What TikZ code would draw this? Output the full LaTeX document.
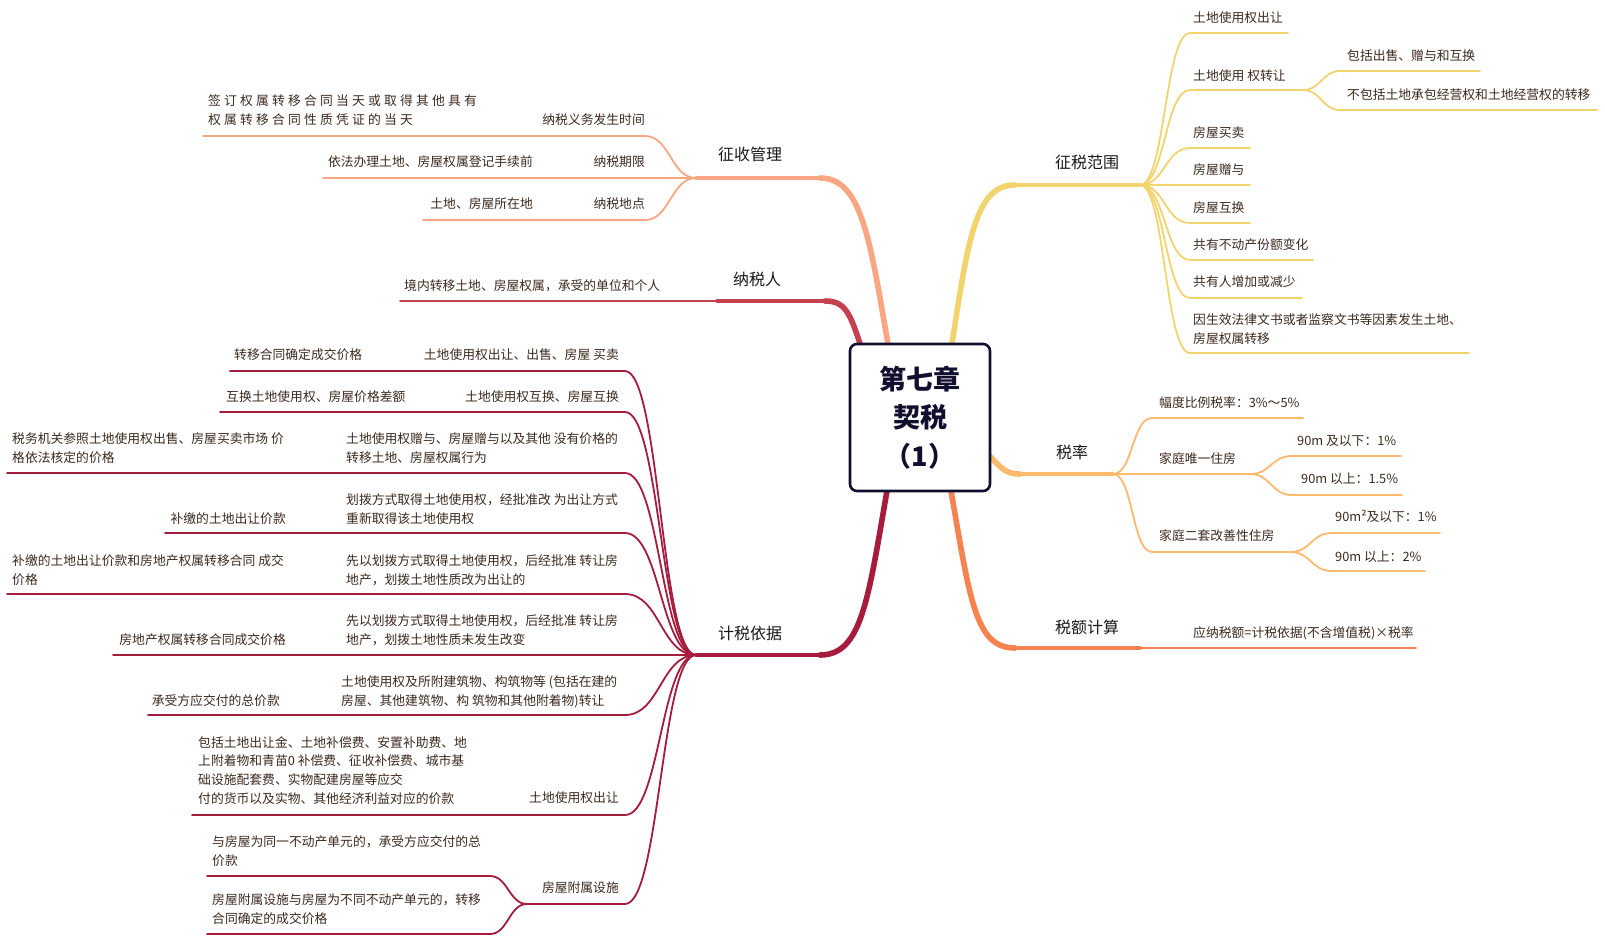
\documentclass[tikz,border=0pt]{standalone}
\usepackage{fontspec}
\newfontfamily\cjk{Noto Sans CJK SC}
\definecolor{zscol}{RGB}{250,166,130}
\definecolor{nsrcol}{RGB}{196,66,80}
\definecolor{jscol}{RGB}{165,28,60}
\definecolor{zfcol}{RGB}{242,212,110}
\definecolor{slcol}{RGB}{253,185,110}
\definecolor{secol}{RGB}{246,130,80}
\definecolor{rootcol}{RGB}{16,16,46}
\definecolor{leafc}{RGB}{60,42,30}
\definecolor{lblc}{RGB}{25,25,25}
\tikzset{
  leaf/.style={inner sep=0pt, font=\cjk\fontsize{12.8}{18.8}\selectfont, text=leafc},
  leafL/.style={leaf, anchor=west, align=left},
  leafR/.style={leaf, anchor=east, align=right},
  spaced/.style={font=\cjk\fontsize{12.8}{18.8}\selectfont\addfontfeatures{LetterSpace=25}},
  mainlbl/.style={inner sep=0pt, font=\cjk\fontsize{16}{20}\selectfont, text=lblc},
  rootbox/.style={draw=rootcol, line width=2.6pt, fill=white, rounded corners=7pt,
    minimum width=140pt, minimum height=147pt, inner sep=0pt, align=center,
    font=\cjk\bfseries\fontsize{27}{38.5}\selectfont, text=rootcol},
  thinln/.style={line width=1.8pt, line cap=round},
  midln/.style={line width=3.4pt, line cap=round},
  thickln/.style={line width=5.6pt, line cap=round},
}
\begin{document}
\begin{tikzpicture}[x=1pt,y=-1pt]
\useasboundingbox (0,0) rectangle (1605,943);
\fill[white] (0,0) rectangle (1605,943);

% ---------- coordinates ----------
% 征收管理
\coordinate (zsC) at (696,178);
\coordinate (zsR) at (889,350);
\coordinate (zsK) at (820,178);
\coordinate (zs1a) at (203,136); \coordinate (zs1b) at (645,136);
\coordinate (zs2a) at (323,178);
\coordinate (zs3a) at (423,220); \coordinate (zs3b) at (645,220);
% 纳税人
\coordinate (nsC) at (717,301);
\coordinate (nsR) at (862,350);
\coordinate (nsK) at (825,301);
\coordinate (ns1a) at (400,301);
% 计税依据
\coordinate (jC) at (696,655);
\coordinate (jR) at (888,485);
\coordinate (jK) at (820,655);
\coordinate (j1a) at (230,371) ; \coordinate (j1b) at (625,371);
\coordinate (j2a) at (220,412) ; \coordinate (j2b) at (625,412);
\coordinate (j3a) at (7,473)   ; \coordinate (j3b) at (625,473);
\coordinate (j4a) at (165,533) ; \coordinate (j4b) at (625,533);
\coordinate (j5a) at (7,594)   ; \coordinate (j5b) at (625,594);
\coordinate (j6a) at (113,655);
\coordinate (j7a) at (148,715) ; \coordinate (j7b) at (625,715);
\coordinate (j8a) at (192,815) ; \coordinate (j8b) at (625,815);
\coordinate (j9a) at (527,904) ; \coordinate (j9b) at (625,904);
\coordinate (j9aa) at (207,876); \coordinate (j9ab) at (490,876);
\coordinate (j9ba) at (207,934); \coordinate (j9bb) at (490,934);
% 征税范围
\coordinate (fC) at (1140,185);
\coordinate (fR) at (951,350);
\coordinate (fK) at (1015,185);
\coordinate (f1a) at (1190,33);  \coordinate (f1b) at (1288,33);
\coordinate (f2a) at (1190,90);  \coordinate (f2b) at (1303,90);
\coordinate (f2aa) at (1340,71); \coordinate (f2ab) at (1480,71);
\coordinate (f2ba) at (1340,110);\coordinate (f2bb) at (1597,110);
\coordinate (f3a) at (1190,148); \coordinate (f3b) at (1250,148);
\coordinate (f4b) at (1250,185);
\coordinate (f5a) at (1190,223); \coordinate (f5b) at (1250,223);
\coordinate (f6a) at (1190,260); \coordinate (f6b) at (1313,260);
\coordinate (f7a) at (1190,298); \coordinate (f7b) at (1302,298);
\coordinate (f8a) at (1190,353); \coordinate (f8b) at (1469,353);
% 税率
\coordinate (sC) at (1113,474);
\coordinate (sR) at (984,450);
\coordinate (sK) at (1020,474);
\coordinate (s1a) at (1152,418); \coordinate (s1b) at (1303,418);
\coordinate (s2b) at (1250,474);
\coordinate (s2aa) at (1292,456); \coordinate (s2ab) at (1401,456);
\coordinate (s2ba) at (1292,495); \coordinate (s2bb) at (1402,495);
\coordinate (s3a) at (1152,552); \coordinate (s3b) at (1290,552);
\coordinate (s3aa) at (1332,533); \coordinate (s3ab) at (1440,533);
\coordinate (s3ba) at (1332,571); \coordinate (s3bb) at (1425,571);
% 税额计算
\coordinate (eC) at (1140,648);
\coordinate (eR) at (950,485);
\coordinate (eK) at (1015,648);
\coordinate (e1b) at (1416,648);

% ---------- main branches ----------
\draw[zscol, midln] (zsK) -- (zsC);
\draw[zscol, thickln] (zsR) .. controls (870,240) and (862,178) .. (zsK);
\draw[nsrcol, midln] (nsK) -- (nsC);
\draw[nsrcol, thickln] (nsR) .. controls (850,312) and (845,301) .. (nsK);
\draw[jscol, midln] (jK) -- (jC);
\draw[jscol, thickln] (jR) .. controls (868,600) and (862,655) .. (jK);
\draw[zfcol, midln] (fK) -- (fC);
\draw[zfcol, thickln] (fR) .. controls (968,240) and (975,185) .. (fK);
\draw[slcol, midln] (sK) -- (sC);
\draw[slcol, thickln] (sR) .. controls (1000,466) and (1003,474) .. (sK);
\draw[secol, midln] (eK) -- (eC);
\draw[secol, thickln] (eR) .. controls (970,600) and (975,648) .. (eK);

% ---------- child connectors ----------
\begin{scope}[zscol, thinln]
\draw (zs1a) -- (zs1b) .. controls +(25,0) and +(-25,0) .. (zsC);
\draw (zs2a) -- (zsC);
\draw (zs3a) -- (zs3b) .. controls +(25,0) and +(-25,0) .. (zsC);
\end{scope}
\draw[nsrcol, thinln] (ns1a) -- (nsC);
\begin{scope}[jscol, thinln]
\draw (j1a) -- (j1b) .. controls +(35,0) and +(-35,0) .. (jC);
\draw (j2a) -- (j2b) .. controls +(35,0) and +(-35,0) .. (jC);
\draw (j3a) -- (j3b) .. controls +(35,0) and +(-35,0) .. (jC);
\draw (j4a) -- (j4b) .. controls +(35,0) and +(-35,0) .. (jC);
\draw (j5a) -- (j5b) .. controls +(35,0) and +(-35,0) .. (jC);
\draw (j6a) -- (jC);
\draw (j7a) -- (j7b) .. controls +(35,0) and +(-35,0) .. (jC);
\draw (j8a) -- (j8b) .. controls +(35,0) and +(-35,0) .. (jC);
\draw (j9a) -- (j9b) .. controls +(35,0) and +(-35,0) .. (jC);
\draw (j9aa) -- (j9ab) .. controls +(18,0) and +(-18,0) .. (j9a);
\draw (j9ba) -- (j9bb) .. controls +(18,0) and +(-18,0) .. (j9a);
\end{scope}
\begin{scope}[zfcol, thinln]
\draw (fC) .. controls +(25,0) and +(-25,0) .. (f1a) -- (f1b);
\draw (fC) .. controls +(25,0) and +(-25,0) .. (f2a) -- (f2b);
\draw (f2b) .. controls +(18,0) and +(-18,0) .. (f2aa) -- (f2ab);
\draw (f2b) .. controls +(18,0) and +(-18,0) .. (f2ba) -- (f2bb);
\draw (fC) .. controls +(25,0) and +(-25,0) .. (f3a) -- (f3b);
\draw (fC) -- (f4b);
\draw (fC) .. controls +(25,0) and +(-25,0) .. (f5a) -- (f5b);
\draw (fC) .. controls +(25,0) and +(-25,0) .. (f6a) -- (f6b);
\draw (fC) .. controls +(25,0) and +(-25,0) .. (f7a) -- (f7b);
\draw (fC) .. controls +(25,0) and +(-25,0) .. (f8a) -- (f8b);
\end{scope}
\begin{scope}[slcol, thinln]
\draw (sC) .. controls +(20,0) and +(-20,0) .. (s1a) -- (s1b);
\draw (sC) -- (s2b);
\draw (s2b) .. controls +(21,0) and +(-21,0) .. (s2aa) -- (s2ab);
\draw (s2b) .. controls +(21,0) and +(-21,0) .. (s2ba) -- (s2bb);
\draw (sC) .. controls +(20,0) and +(-20,0) .. (s3a) -- (s3b);
\draw (s3b) .. controls +(21,0) and +(-21,0) .. (s3aa) -- (s3ab);
\draw (s3b) .. controls +(21,0) and +(-21,0) .. (s3ba) -- (s3bb);
\end{scope}
\draw[secol, thinln] (eC) -- (e1b);

% ---------- root ----------
\node[rootbox] (root) at (920,417.5) {第七章\\契税\\（1）};

% ---------- main labels ----------
\node[mainlbl] (zsgl) at (750,154) {征收管理};
\node[mainlbl] (nsr)  at (757,279) {纳税人};
\node[mainlbl] (jsyj) at (750,633) {计税依据};
\node[mainlbl] (zsfw) at (1087,162) {征税范围};
\node[mainlbl] (sl)   at (1072,452) {税率};
\node[mainlbl] (sejs) at (1087,627) {税额计算};

% ---------- 征收管理 leaves ----------
\node[leafL, spaced] (zs1t) at (208,110.5) {签订权属转移合同当天或取得其他具有\\权属转移合同性质凭证的当天};
\node[leafR] (zs1k) at (645,120) {纳税义务发生时间};
\node[leafR] (zs2t) at (533,162) {依法办理土地、房屋权属登记手续前};
\node[leafR] (zs2k) at (645,162) {纳税期限};
\node[leafR] (zs3t) at (533,204) {土地、房屋所在地};
\node[leafR] (zs3k) at (645,204) {纳税地点};

% ---------- 纳税人 leaf ----------
\node[leafL] (ns1) at (404,286) {境内转移土地、房屋权属，承受的单位和个人};

% ---------- 计税依据 leaves ----------
\node[leafR] (j1k) at (619,355) {土地使用权出让、出售、房屋 买卖};
\node[leafL] (j1v) at (234,355) {转移合同确定成交价格};
\node[leafR] (j2k) at (619,397) {土地使用权互换、房屋互换};
\node[leafL] (j2v) at (226,397) {互换土地使用权、房屋价格差额};
\node[leafL] (j3k) at (346,448.5) {土地使用权赠与、房屋赠与以及其他 没有价格的\\转移土地、房屋权属行为};
\node[leafL] (j3v) at (12,448.5) {税务机关参照土地使用权出售、房屋买卖市场 价\\格依法核定的价格};
\node[leafL] (j4k) at (346,509.5) {划拨方式取得土地使用权，经批准改 为出让方式\\重新取得该土地使用权};
\node[leafR] (j4v) at (286,519) {补缴的土地出让价款};
\node[leafL] (j5k) at (346,570) {先以划拨方式取得土地使用权，后经批准 转让房\\地产，划拨土地性质改为出让的};
\node[leafL] (j5v) at (12,570) {补缴的土地出让价款和房地产权属转移合同 成交\\价格};
\node[leafL] (j6k) at (346,630.5) {先以划拨方式取得土地使用权，后经批准 转让房\\地产，划拨土地性质未发生改变};
\node[leafR] (j6v) at (286,640) {房地产权属转移合同成交价格};
\node[leafL] (j7k) at (341,691.5) {土地使用权及所附建筑物、构筑物等 (包括在建的\\房屋、其他建筑物、构 筑物和其他附着物)转让};
\node[leafR] (j7v) at (280,701) {承受方应交付的总价款};
\node[leafL] (j8v) at (198,770.5) {包括土地出让金、土地补偿费、安置补助费、地\\上附着物和青苗0 补偿费、征收补偿费、城市基\\础设施配套费、实物配建房屋等应交\\付的货币以及实物、其他经济利益对应的价款};
\node[leafR] (j8k) at (619,798) {土地使用权出让};
\node[leafR] (j9k) at (619,888) {房屋附属设施};
\node[leafL] (j9av) at (212,851.5) {与房屋为同一不动产单元的，承受方应交付的总\\价款};
\node[leafL] (j9bv) at (212,909) {房屋附属设施与房屋为不同不动产单元的，转移\\合同确定的成交价格};

% ---------- 征税范围 leaves ----------
\node[leafL] (f1) at (1193,18) {土地使用权出让};
\node[leafL] (f2) at (1193,76) {土地使用 权转让};
\node[leafL] (f2x) at (1347,56) {包括出售、赠与和互换};
\node[leafL] (f2y) at (1347,95) {不包括土地承包经营权和土地经营权的转移};
\node[leafL] (f3) at (1193,133) {房屋买卖};
\node[leafL] (f4) at (1193,170) {房屋赠与};
\node[leafL] (f5) at (1193,208) {房屋互换};
\node[leafL] (f6) at (1193,245) {共有不动产份额变化};
\node[leafL] (f7) at (1193,282) {共有人增加或减少};
\node[leafL] (f8) at (1193,329) {因生效法律文书或者监察文书等因素发生土地、\\房屋权属转移};

% ---------- 税率 leaves ----------
\node[leafL] (s1) at (1159,403) {幅度比例税率：3\%～5\%};
\node[leafL] (s2) at (1159,459) {家庭唯一住房};
\node[leafL] (s2x) at (1297,441) {90m 及以下：1\%};
\node[leafL] (s2y) at (1301,479) {90m 以上：1.5\%};
\node[leafL] (s3) at (1159,536) {家庭二套改善性住房};
\node[leafL] (s3x) at (1335,516) {90m²及以下：1\%};
\node[leafL] (s3y) at (1335,557) {90m 以上：2\%};

% ---------- 税额计算 leaf ----------
\node[leafL] (e1) at (1193,633) {应纳税额=计税依据(不含增值税)×税率};
\end{tikzpicture}
\end{document}
